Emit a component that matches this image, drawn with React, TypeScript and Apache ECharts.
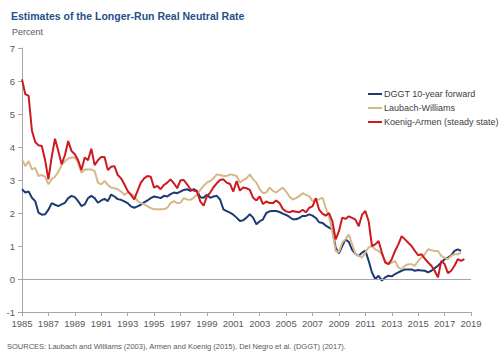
import React, { useEffect, useRef } from "react";
import * as echarts from "echarts";

// Quarterly observations starting 1985Q1
const START_YEAR = 1985;
const END_YEAR = 2019;
const STEP = 0.25;

const yTicks = { min: -1, max: 7, interval: 1 };

const dggt: number[] = [
  2.72, 2.62, 2.65, 2.46, // 1985
  2.36, 2.01, 1.95, 1.96, // 1986
  2.1, 2.3, 2.25, 2.21, // 1987
  2.26, 2.31, 2.45, 2.52, // 1988
  2.48, 2.36, 2.21, 2.26, // 1989
  2.45, 2.52, 2.45, 2.31, // 1990
  2.38, 2.43, 2.36, 2.56, // 1991
  2.5, 2.42, 2.4, 2.35, // 1992
  2.3, 2.2, 2.16, 2.2, // 1993
  2.25, 2.32, 2.38, 2.45, // 1994
  2.5, 2.48, 2.45, 2.52, // 1995
  2.5, 2.57, 2.62, 2.6, // 1996
  2.65, 2.7, 2.72, 2.67, // 1997
  2.72, 2.67, 2.48, 2.46, // 1998
  2.55, 2.46, 2.5, 2.52, // 1999
  2.41, 2.11, 2.06, 2.01, // 2000
  1.95, 1.86, 1.76, 1.78, // 2001
  1.86, 1.96, 1.86, 1.66, // 2002
  1.75, 1.81, 2.0, 2.05, // 2003
  2.06, 2.06, 2.03, 1.98, // 2004
  1.94, 1.88, 1.81, 1.81, // 2005
  1.85, 1.91, 1.91, 1.96, // 2006
  1.92, 1.85, 1.72, 1.7, // 2007
  1.62, 1.56, 1.5, 0.95, // 2008
  0.78, 1.0, 1.2, 1.12, // 2009
  0.88, 0.76, 0.7, 0.8, // 2010
  0.86, 0.55, 0.2, 0.0, // 2011
  0.1, -0.05, 0.05, 0.1, // 2012
  0.08, 0.15, 0.2, 0.25, // 2013
  0.29, 0.29, 0.29, 0.25, // 2014
  0.27, 0.26, 0.25, 0.2, // 2015
  0.25, 0.33, 0.4, 0.5, // 2016
  0.6, 0.65, 0.72, 0.85, // 2017
  0.9, 0.85, // 2018
];

const laubachWilliams: number[] = [
  3.63, 3.42, 3.57, 3.32, // 1985
  3.37, 3.12, 3.15, 3.1, // 1986
  2.87, 3.02, 3.1, 3.25, // 1987
  3.45, 3.57, 3.65, 3.68, // 1988
  3.68, 3.52, 3.22, 3.32, // 1989
  3.32, 3.32, 3.27, 2.92, // 1990
  2.87, 2.97, 2.85, 2.77, // 1991
  2.75, 2.72, 2.65, 2.55, // 1992
  2.62, 2.58, 2.52, 2.36, // 1993
  2.3, 2.26, 2.21, 2.15, // 1994
  2.11, 2.11, 2.11, 2.11, // 1995
  2.16, 2.3, 2.36, 2.3, // 1996
  2.31, 2.45, 2.41, 2.4, // 1997
  2.46, 2.55, 2.7, 2.82, // 1998
  2.92, 2.97, 3.05, 3.17, // 1999
  3.15, 3.12, 3.12, 3.17, // 2000
  3.15, 3.12, 2.92, 3.0, // 2001
  3.05, 3.17, 3.02, 2.92, // 2002
  2.72, 2.6, 2.62, 2.77, // 2003
  2.67, 2.62, 2.7, 2.77, // 2004
  2.65, 2.5, 2.41, 2.45, // 2005
  2.51, 2.6, 2.55, 2.51, // 2006
  2.36, 2.41, 2.41, 2.47, // 2007
  2.16, 1.88, 1.45, 0.85, // 2008
  0.82, 1.1, 1.21, 1.35, // 2009
  1.05, 0.76, 0.7, 0.65, // 2010
  0.8, 0.96, 1.0, 0.9, // 2011
  0.85, 0.76, 0.55, 0.45, // 2012
  0.5, 0.55, 0.35, 0.3, // 2013
  0.4, 0.45, 0.45, 0.4, // 2014
  0.55, 0.65, 0.75, 0.9, // 2015
  0.87, 0.85, 0.85, 0.7, // 2016
  0.65, 0.6, 0.7, 0.75, // 2017
  0.75, 0.8, // 2018
];

const koenigArmen: number[] = [
  6.05, 5.6, 5.55, 4.5, // 1985
  4.15, 4.05, 4.03, 3.6, // 1986
  3.02, 3.7, 4.25, 3.88, // 1987
  3.48, 3.75, 4.18, 3.88, // 1988
  3.78, 3.6, 3.3, 3.68, // 1989
  3.6, 3.95, 3.45, 3.6, // 1990
  3.7, 3.7, 3.3, 3.4, // 1991
  3.42, 3.15, 3.05, 2.87, // 1992
  2.67, 2.55, 2.41, 2.67, // 1993
  2.92, 3.05, 3.12, 3.1, // 1994
  2.77, 2.82, 2.72, 2.85, // 1995
  2.92, 3.02, 2.9, 2.75, // 1996
  2.99, 3.0, 2.87, 2.72, // 1997
  2.68, 2.65, 2.35, 2.22, // 1998
  2.5, 2.62, 2.78, 2.9, // 1999
  3.0, 3.02, 2.92, 2.88, // 2000
  2.65, 2.97, 2.68, 2.77, // 2001
  2.75, 2.7, 2.46, 2.38, // 2002
  2.5, 2.27, 2.35, 2.3, // 2003
  2.3, 2.38, 2.3, 2.12, // 2004
  2.05, 2.02, 2.06, 2.04, // 2005
  2.02, 2.1, 2.02, 2.16, // 2006
  2.2, 2.45, 2.1, 1.98, // 2007
  1.92, 2.0, 1.75, 1.2, // 2008
  1.45, 1.86, 1.82, 1.9, // 2009
  1.85, 1.8, 1.6, 1.95, // 2010
  2.06, 1.75, 1.0, 1.05, // 2011
  1.15, 0.8, 0.5, 0.45, // 2012
  0.6, 0.85, 1.05, 1.3, // 2013
  1.2, 1.1, 1.0, 0.85, // 2014
  0.72, 0.75, 0.62, 0.5, // 2015
  0.4, 0.25, 0.05, 0.55, // 2016
  0.45, 0.18, 0.25, 0.4, // 2017
  0.6, 0.55, 0.6, // 2018
];

const seriesNames = [
  "DGGT 10-year forward",
  "Laubach-Williams",
  "Koenig-Armen (steady state)",
];
const seriesColors = ["#1c3a74", "#d6b88a", "#cc1a1f"];

const titleText = "Estimates of the Longer-Run Real Neutral Rate";
const unitText = "Percent";
const sourceText =
  "SOURCES: Laubach and Williams (2003), Armen and Koenig (2015), Del Negro et al. (DGGT) (2017).";

const toPoints = (values: number[]) =>
  values.map((v, i) => [i * STEP, v]);

export default function App() {
  const ref = useRef<HTMLDivElement>(null);

  useEffect(() => {
    if (!ref.current) return;
    const chart = echarts.init(ref.current, null, { renderer: "svg" });
    const font = "'Liberation Sans', Arial, sans-serif";
    const allSeries = [dggt, laubachWilliams, koenigArmen];
    chart.setOption({
      animation: false,
      backgroundColor: "#ffffff",
      textStyle: { fontFamily: font },
      title: {
        text: titleText,
        left: 6,
        top: 5,
        textStyle: {
          fontFamily: font,
          fontSize: 10.5,
          fontWeight: "bold",
          color: "#24508a",
        },
      },
      graphic: [
        {
          type: "text",
          left: 12,
          top: 27,
          style: { text: unitText, fontSize: 9, fill: "#595959", fontFamily: font },
        },
        {
          type: "text",
          left: 7,
          top: 342,
          style: { text: sourceText, fontSize: 7.5, fill: "#595959", fontFamily: font },
        },
      ],
      legend: {
        orient: "vertical",
        left: 363,
        top: 84,
        icon: "rect",
        itemWidth: 14,
        itemHeight: 2,
        itemGap: 4,
        textStyle: {
          fontFamily: font,
          fontSize: 9,
          color: "#404040",
          lineHeight: 10,
          padding: [0, 0, 0, -3],
        },
        data: seriesNames,
      },
      grid: { left: 22, right: 29, top: 48, bottom: 48 },
      xAxis: {
        type: "value",
        min: 0,
        max: END_YEAR - START_YEAR,
        interval: 2,
        axisLine: { onZero: false, lineStyle: { color: "#a6a6a6", width: 1 } },
        axisTick: { show: true, length: 4, lineStyle: { color: "#a6a6a6" } },
        splitLine: { show: false },
        axisLabel: {
          formatter: (v: number) => String(START_YEAR + v),
          fontSize: 9.5,
          color: "#595959",
          margin: 6,
          fontFamily: font,
        },
      },
      yAxis: {
        type: "value",
        min: yTicks.min,
        max: yTicks.max,
        interval: yTicks.interval,
        axisLine: { show: true, lineStyle: { color: "#a6a6a6", width: 1 } },
        axisTick: { show: true, length: 4, lineStyle: { color: "#a6a6a6" } },
        splitLine: { show: false },
        axisLabel: {
          fontSize: 9.5,
          color: "#595959",
          margin: 7,
          fontFamily: font,
        },
      },
      series: allSeries.map((vals, i) => ({
        name: seriesNames[i],
        type: "line",
        data: toPoints(vals),
        showSymbol: false,
        symbol: "none",
        color: seriesColors[i],
        lineStyle: { width: 2, color: seriesColors[i] },
        z: 3 + i,
        markLine:
          i === 0
            ? {
                silent: true,
                symbol: ["none", "none"],
                label: { show: false },
                lineStyle: { color: "#a6a6a6", width: 1, type: "solid" },
                data: [{ yAxis: 0 }],
              }
            : undefined,
      })),
    });
    return () => chart.dispose();
  }, []);

  return (
    <div
      ref={ref}
      style={{ position: "fixed", left: 0, top: 0, width: 500, height: 360 }}
    />
  );
}
